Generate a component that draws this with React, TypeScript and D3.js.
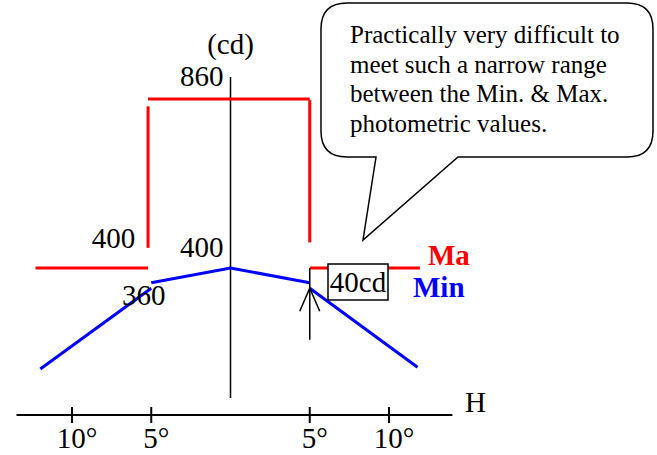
import React from "react";
import * as d3 from "d3";

const width = 657;
const height = 455;

// horizontal angle (deg) vs luminous intensity (cd)
const degTicks = [-10, -5, 5, 10];
const degLabels = ["10°", "5°", "5°", "10°"];
const hAxisRange = [-13.5, 14];
const vAxisRange = [46, 920];

// Min. curve, drawn as three pieces
const minSegments = [
  [[-12, 125], [-5, 345]],
  [[-5, 360], [0, 400], [5, 360]],
  [[5, 345], [11.8, 130]]
];

// Max. limit (red) pieces
const maxSegments = [
  [[-12.3, 400], [-5.2, 400]],
  [[-5.2, 455], [-5.2, 840]],
  [[-5.2, 860], [5, 860]],
  [[5, 857], [5, 470]],
  [[5, 400], [11.95, 400]]
];

const calloutLines = [
  "Practically very difficult to",
  "meet such a narrow range",
  "between the Min. & Max.",
  "photometric values."
];

const font = "'Liberation Serif', 'Times New Roman', serif";
const fs = 29;

const xScale = d3.scaleLinear().domain([-10, 10]).range([72, 389]);
const yScale = d3.scaleLinear().domain([0, 860]).range([415, 99]);

const line = d3
  .line<number[]>()
  .x(d => xScale(d[0]))
  .y(d => yScale(d[1]));

function calloutPath() {
  const x0 = 321, x1 = 653, y0 = 3, y1 = 157, r = 26;
  const p = d3.path();
  p.moveTo(x0 + r, y0);
  p.lineTo(x1 - r, y0);
  p.quadraticCurveTo(x1, y0, x1, y0 + r);
  p.lineTo(x1, y1 - r);
  p.quadraticCurveTo(x1, y1, x1 - r, y1);
  p.lineTo(458, y1);
  p.lineTo(363, 240);
  p.lineTo(376, y1);
  p.lineTo(x0 + r, y1);
  p.quadraticCurveTo(x0, y1, x0, y1 - r);
  p.lineTo(x0, y0 + r);
  p.quadraticCurveTo(x0, y0, x0 + r, y0);
  p.closePath();
  return p.toString();
}

export default function App() {
  const ax = xScale(5);
  const tipY = yScale(345);
  return (
    <svg
      width={width}
      height={height}
      style={{ position: "absolute", left: 0, top: 0, background: "#fff" }}
      fontFamily={font}
    >
      {/* axes */}
      <line
        x1={xScale(hAxisRange[0])}
        x2={xScale(hAxisRange[1])}
        y1={yScale(0)}
        y2={yScale(0)}
        stroke="#000"
        strokeWidth={2}
      />
      <line
        x1={xScale(0)}
        x2={xScale(0)}
        y1={yScale(vAxisRange[0])}
        y2={yScale(vAxisRange[1])}
        stroke="#000"
        strokeWidth={1.5}
      />
      {degTicks.map((t, i) => (
        <g key={i}>
          <line
            x1={xScale(t)}
            x2={xScale(t)}
            y1={yScale(0) - 8}
            y2={yScale(0) + 8}
            stroke="#000"
            strokeWidth={2}
          />
          <text x={xScale(t) + 5} y={448} fontSize={fs} textAnchor="middle">
            {degLabels[i]}
          </text>
        </g>
      ))}
      <text x={465} y={412} fontSize={fs}>H</text>
      <text x={xScale(0)} y={54} fontSize={fs} textAnchor="middle">(cd)</text>

      {/* Max. */}
      {maxSegments.map((s, i) => (
        <path key={i} d={line(s) || ""} fill="none" stroke="#ff0000" strokeWidth={3} />
      ))}
      {/* Min. */}
      {minSegments.map((s, i) => (
        <path key={i} d={line(s) || ""} fill="none" stroke="#0000ff" strokeWidth={3} />
      ))}

      <text x={xScale(0) - 7} y={yScale(860) - 13} fontSize={fs} textAnchor="end">860</text>
      <text x={xScale(-5) - 16} y={248} fontSize={fs} textAnchor="end">400</text>
      <text x={xScale(0) - 7} y={yScale(400) - 11} fontSize={fs} textAnchor="end">400</text>
      <text x={122} y={305} fontSize={fs}>360</text>

      {/* 40 cd gap marker */}
      <line x1={ax} x2={ax} y1={yScale(400)} y2={yScale(205)} stroke="#000" strokeWidth={1.5} />
      <path
        d={`M${ax - 10},${tipY + 23}L${ax},${tipY}L${ax + 10},${tipY + 23}`}
        fill="none"
        stroke="#000"
        strokeWidth={1.5}
      />
      <rect x={328} y={264} width={60} height={36} fill="#fff" stroke="#000" strokeWidth={1.5} />
      <text x={358} y={292} fontSize={fs} textAnchor="middle">40cd</text>

      <text x={428} y={265} fontSize={fs} fontWeight="bold" fill="#ff0000">Ma</text>
      <text x={413} y={297} fontSize={fs} fontWeight="bold" fill="#0000ff">Min</text>

      {/* callout */}
      <path d={calloutPath()} fill="#fff" stroke="#000" strokeWidth={1.5} />
      {calloutLines.map((t, i) => (
        <text key={i} x={350} y={43 + i * 29.6} fontSize={25}>
          {t}
        </text>
      ))}
    </svg>
  );
}
